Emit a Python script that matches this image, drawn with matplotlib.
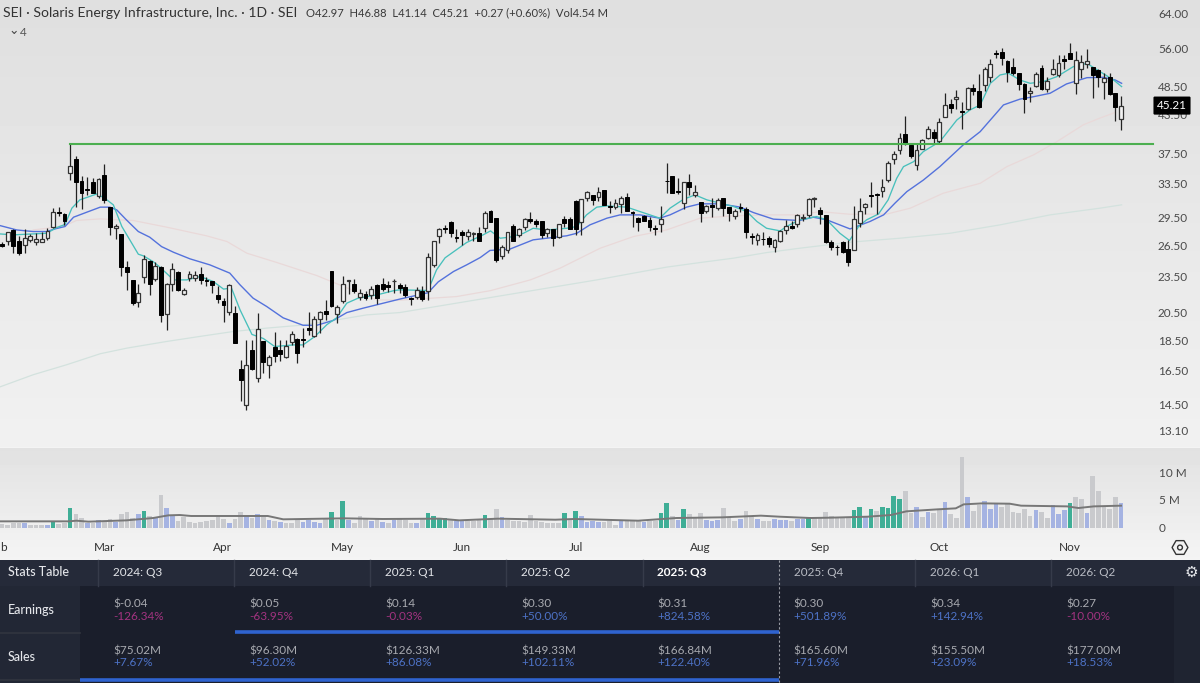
import numpy as np
import matplotlib
matplotlib.use("Agg")
import matplotlib.pyplot as plt
from matplotlib.patches import Rectangle

plt.rcParams['font.family'] = ['Lato', 'DejaVu Sans']

W = 1200
H = 683

opens = [26.71, 27.09, 28.20, 27.09, 26.64, 27.13, 26.89, 26.99, 27.33, 28.48,
         30.24, 29.96, 34.97, 36.88, 33.96, 32.92, 33.83, 32.08, 34.75, 30.82,
         28.38, 27.78, 24.49, 23.33, 21.44, 23.57, 25.11, 23.42, 24.53, 20.51,
         22.96, 24.00, 22.13, 23.48, 23.51, 23.88, 23.36, 23.19, 22.04, 21.50,
         20.69, 20.56, 16.66, 14.53, 17.88, 16.07, 18.52, 16.92, 18.08, 17.90,
         17.39, 18.40, 18.64, 18.62, 19.45, 18.83, 20.08, 20.72, 24.15, 20.51,
         21.50, 23.24, 22.99, 21.90, 22.13, 22.07, 22.90, 22.99, 22.87, 23.19,
         22.87, 22.67, 21.82, 21.85, 22.39, 22.33, 24.70, 27.61, 28.45, 29.01,
         27.47, 27.99, 27.51, 27.78, 27.85, 28.38, 30.31, 29.49, 25.50, 26.15,
         28.68, 27.65, 28.53, 29.38, 29.19, 29.12, 27.85, 28.27, 27.44, 29.45,
         29.38, 31.49, 29.08, 31.80, 32.21, 32.00, 32.83, 30.94, 30.75, 31.14,
         31.92, 30.20, 29.49, 29.71, 29.30, 28.38, 28.79, 34.00, 34.57, 32.75,
         31.22, 33.87, 32.17, 31.33, 30.31, 31.02, 30.63, 31.80, 30.78, 29.75,
         30.75, 30.51, 27.51, 27.16, 27.30, 27.33, 26.41, 27.09, 28.20, 28.61,
         28.83, 29.52, 29.86, 31.69, 30.43, 29.82, 26.99, 26.47, 26.92, 26.21,
         26.15, 28.98, 30.71, 32.21, 32.33, 32.71, 34.08, 36.88, 38.20, 40.60,
         38.98, 36.08, 38.40, 40.04, 40.85, 39.53, 43.35, 45.55, 46.30, 44.23,
         44.58, 48.41, 47.80, 48.83, 50.33, 55.21, 55.49, 53.61, 52.28, 51.11,
         49.08, 47.37, 48.71, 52.09, 48.11, 50.98, 50.78, 53.90, 55.14, 49.20,
         51.95, 52.92, 52.35, 51.76, 49.51, 50.39, 47.37, 42.97]
highs = [26.89, 28.03, 28.31, 27.58, 28.27, 27.78, 27.85, 28.03, 28.38, 30.63,
         30.75, 30.04, 39.08, 37.40, 34.62, 34.53, 34.39, 34.39, 36.18, 30.82,
         28.83, 27.78, 25.11, 23.33, 22.99, 25.63, 25.17, 25.01, 24.59, 23.10,
         24.85, 24.09, 22.59, 24.09, 24.09, 24.53, 23.63, 23.27, 22.76, 21.82,
         22.99, 21.15, 17.19, 18.54, 18.54, 20.56, 18.52, 17.57, 19.16, 18.59,
         18.59, 19.23, 18.71, 19.43, 20.64, 20.36, 20.75, 21.58, 24.15, 21.20,
         23.69, 23.36, 23.45, 22.53, 22.41, 22.76, 22.99, 23.48, 23.19, 23.39,
         23.10, 22.99, 21.87, 22.67, 22.82, 25.85, 27.06, 28.38, 28.75, 29.23,
         28.31, 28.20, 28.34, 28.03, 28.57, 30.31, 30.43, 29.49, 26.64, 28.03,
         28.83, 28.45, 29.49, 30.24, 29.38, 29.12, 28.45, 28.34, 28.86, 29.71,
         29.60, 31.61, 31.69, 32.75, 32.21, 33.16, 32.83, 31.53, 31.69, 32.08,
         32.42, 30.31, 29.60, 29.86, 29.67, 28.75, 30.90, 36.40, 34.57, 34.30,
         33.87, 34.88, 33.46, 31.33, 31.02, 31.80, 31.80, 31.88, 30.82, 30.51,
         31.29, 30.82, 27.85, 27.85, 27.96, 27.51, 27.23, 28.20, 29.30, 29.23,
         29.96, 29.93, 31.80, 32.00, 30.75, 29.86, 27.16, 26.64, 27.06, 27.16,
         30.94, 31.88, 31.29, 33.79, 32.42, 34.21, 36.69, 38.11, 40.70, 43.46,
         39.18, 39.28, 39.84, 41.85, 41.36, 43.19, 47.37, 46.30, 47.98, 45.90,
         48.47, 49.08, 50.91, 52.28, 53.90, 55.84, 56.18, 53.75, 54.10, 51.24,
         49.20, 48.59, 51.43, 52.74, 50.33, 53.90, 54.79, 54.79, 57.27, 55.70,
         54.79, 56.03, 52.41, 51.96, 51.11, 51.24, 47.37, 46.88]
lows = [26.41, 26.64, 25.82, 25.66, 25.82, 26.99, 26.64, 26.89, 27.16, 28.38,
        29.75, 28.75, 34.08, 30.71, 30.51, 32.21, 32.42, 31.80, 31.22, 27.68,
        27.23, 23.70, 22.47, 21.20, 21.09, 23.04, 21.99, 23.27, 19.88, 19.30,
        22.41, 22.41, 22.01, 23.19, 23.27, 22.99, 22.82, 22.19, 21.36, 19.85,
        20.43, 18.36, 14.71, 14.25, 16.55, 15.83, 16.39, 16.05, 17.08, 17.12,
        17.34, 18.24, 17.01, 18.12, 18.95, 18.78, 19.06, 20.06, 21.09, 19.80,
        21.36, 22.13, 22.19, 21.63, 21.58, 21.69, 21.31, 22.41, 22.30, 22.19,
        22.19, 21.87, 21.23, 21.72, 21.50, 21.63, 24.53, 26.82, 27.85, 27.44,
        26.92, 26.68, 27.16, 27.09, 27.09, 28.03, 29.01, 25.01, 25.27, 25.82,
        27.06, 27.44, 28.20, 28.94, 28.50, 27.33, 27.44, 26.54, 27.33, 28.50,
        28.27, 27.68, 27.68, 31.53, 31.02, 31.53, 30.98, 30.12, 30.59, 30.12,
        30.31, 28.57, 28.13, 29.12, 28.13, 27.68, 28.03, 32.42, 32.42, 32.33,
        30.59, 32.21, 32.00, 29.01, 30.04, 29.63, 30.43, 29.75, 29.23, 29.38,
        30.24, 27.33, 26.71, 26.64, 26.64, 26.47, 25.98, 26.89, 27.78, 28.27,
        28.57, 29.12, 29.67, 30.82, 28.83, 26.82, 26.15, 25.66, 25.82, 24.62,
        26.15, 28.57, 30.00, 30.82, 29.93, 32.00, 33.87, 36.22, 37.64, 38.93,
        37.02, 35.42, 38.30, 39.79, 39.18, 39.18, 43.24, 44.00, 44.58, 41.36,
        44.46, 47.07, 44.75, 47.80, 49.51, 54.10, 52.74, 49.38, 50.78, 47.98,
        44.00, 45.90, 48.59, 47.98, 47.55, 50.72, 50.33, 51.89, 53.90, 47.25,
        50.13, 52.09, 46.48, 48.59, 46.30, 47.07, 42.65, 41.14]
closes = [26.54, 27.96, 26.54, 25.88, 27.40, 27.51, 27.23, 27.27, 28.13, 30.24,
          30.04, 29.23, 35.95, 33.87, 32.50, 32.79, 32.50, 34.21, 31.61, 28.57,
          28.68, 24.49, 24.00, 21.36, 22.19, 25.24, 22.99, 24.59, 20.43, 22.99,
          24.30, 22.47, 22.44, 23.88, 23.76, 23.33, 23.24, 22.90, 21.69, 21.18,
          22.87, 18.36, 15.93, 16.91, 16.64, 19.40, 17.10, 17.43, 17.45, 17.63,
          18.14, 19.02, 17.70, 18.54, 19.32, 20.11, 20.67, 20.51, 21.15, 21.09,
          22.93, 23.36, 22.39, 22.24, 21.77, 22.53, 21.82, 22.53, 22.70, 23.27,
          22.59, 22.04, 21.74, 22.47, 21.72, 25.46, 27.06, 28.27, 28.34, 27.85,
          27.37, 27.65, 28.03, 27.85, 27.09, 30.04, 29.08, 25.17, 26.47, 27.96,
          27.09, 28.31, 29.38, 29.16, 28.83, 27.68, 28.27, 27.33, 28.79, 28.94,
          28.31, 28.34, 31.69, 32.62, 31.65, 32.54, 31.06, 30.75, 31.18, 31.80,
          30.35, 30.04, 29.01, 29.23, 28.53, 28.34, 29.38, 33.91, 32.50, 32.58,
          33.79, 33.25, 32.62, 30.04, 30.86, 30.82, 31.65, 30.67, 30.04, 30.31,
          30.63, 27.96, 27.44, 27.68, 27.23, 26.75, 27.16, 28.10, 28.68, 28.41,
          29.86, 29.60, 31.69, 31.84, 29.93, 26.92, 26.47, 26.41, 25.92, 24.95,
          29.38, 30.27, 31.10, 32.04, 32.21, 33.25, 36.40, 37.64, 40.00, 39.13,
          37.40, 38.20, 39.74, 41.42, 39.94, 42.44, 45.38, 44.75, 46.76, 44.12,
          48.29, 47.80, 44.98, 52.02, 52.87, 55.07, 54.24, 51.43, 51.11, 49.08,
          46.33, 47.74, 50.98, 48.17, 49.63, 52.02, 53.20, 53.54, 53.97, 53.75,
          53.40, 53.61, 50.78, 50.46, 50.20, 47.25, 44.98, 45.21]

# volume in millions, kind g/b/t = grey, blue, teal
volume = [0.73, 0.61, 0.85, 0.85, 0.98, 0.49, 0.61, 0.61, 0.61, 1.16,
          0.73, 0.85, 3.60, 2.56, 1.89, 0.98, 0.98, 1.46, 1.16, 1.71,
          1.16, 2.50, 2.93, 1.77, 2.50, 3.05, 2.26, 1.77, 6.10, 3.66,
          2.20, 1.28, 1.95, 1.16, 0.98, 1.16, 1.28, 1.46, 1.95, 1.65,
          0.98, 1.65, 2.93, 2.20, 1.77, 2.50, 2.07, 1.46, 1.34, 1.10,
          0.98, 0.85, 1.46, 1.16, 1.52, 1.10, 0.85, 1.83, 2.99, 1.46,
          5.00, 1.52, 0.98, 2.26, 1.77, 1.22, 1.59, 1.10, 0.85, 1.46,
          1.59, 1.46, 0.98, 0.98, 1.59, 2.68, 2.20, 1.83, 1.77, 1.46,
          1.28, 1.34, 1.22, 1.22, 1.59, 2.38, 1.59, 3.48, 2.01, 1.40,
          1.34, 1.22, 1.10, 2.38, 1.22, 1.10, 0.98, 0.98, 0.85, 2.80,
          1.46, 3.11, 2.13, 1.04, 1.22, 1.10, 1.16, 1.22, 0.61, 1.46,
          1.46, 1.46, 1.46, 1.04, 1.28, 1.34, 2.68, 4.63, 2.13, 1.46,
          3.48, 2.50, 1.77, 2.74, 1.46, 1.34, 1.52, 3.60, 2.07, 1.34,
          1.59, 3.11, 2.07, 1.59, 1.34, 1.34, 1.65, 1.46, 1.46, 1.22,
          1.59, 1.59, 2.01, 1.77, 1.83, 2.99, 2.20, 1.77, 1.77, 1.89,
          3.29, 3.84, 2.07, 3.41, 3.11, 3.84, 3.66, 5.79, 5.37, 6.77,
          2.68, 3.90, 2.01, 2.99, 2.80, 3.41, 4.82, 2.62, 1.83, 13.05,
          5.73, 3.11, 4.21, 4.94, 3.48, 4.51, 3.78, 4.33, 2.93, 2.80,
          3.48, 2.26, 3.29, 2.93, 1.83, 4.21, 2.56, 3.29, 4.51, 5.73,
          5.24, 2.74, 9.51, 6.77, 3.78, 3.54, 5.73, 4.54]
vol_kind = ("ggggbgggbt" "ggtggbgbgg" "bgggbtgbgb" "bggggggggg" "bggbgbgbgb"
            "gggbbbbgtg" "tbgggbgbgb" "gggbgttttg" "bbgggtggbg" "gggggggggt"
            "gtbbbbgggb" "gggbggttgb" "tgggbbbggg" "bggbggbbbg" "bbtggggggg"
            "ttbtgttttg" "gbgbggbggg" "bggbbbgggg" "ggbggbbbtg" "gbgggggb")

vol_avg_idx = [-0.4, 11.8, 13.1, 15.2, 21.9, 26.6, 29.3, 31.3, 33.3, 46.8, 49.5, 60.3, 67, 77.1, 80.5,
               87.3, 97.4, 100.7, 112, 118.7, 126.8, 133.6, 136.9, 142.3, 145.7, 152.4, 156.5,
               159.2, 164.6, 167.9, 169.3, 172.6, 177.4, 179.4, 187.5, 189.5, 192.2, 197]
vol_avg = [1.22, 1.22, 1.34, 1.16, 1.40, 1.83, 2.32, 2.38, 2.20, 2.20, 1.59, 1.77, 1.65, 1.71, 1.40,
           1.71, 1.52, 1.65, 1.34, 1.83, 1.95, 2.26, 2.07, 1.83, 1.89, 2.07, 2.38,
           3.05, 3.41, 3.60, 4.33, 4.51, 4.45, 4.09, 3.96, 3.66, 3.96, 4.09]

ma_fast_idx = [-0.4, 2, 7.9, 9.6, 11.1, 12.3, 13.7, 16.7, 18.1, 19.6, 21.1, 24, 24.9, 26.6, 27.8, 30.2,
               32.5, 34.9, 37.2, 39, 40.4, 41.9, 44, 46, 48, 51.3, 53, 55.1, 57.2, 58.9, 60.7, 62.7,
               66, 68.9, 70, 75, 76.5, 78, 81.8, 84.7, 86, 87.7, 89.4, 91.8, 93.5, 95.9, 99.4, 101.2,
               102.9, 104.7, 106.5, 110, 112.3, 115.8, 117.6, 120, 122, 124.1, 128.8, 131.1, 132.9,
               134.6, 137, 138.1, 140.4, 142, 143.4, 145.2, 147.5, 149.2, 150.8, 152.2, 154.3, 156,
               157.5, 158.7, 160.5, 162.2, 165.1, 168.1, 170.4, 172.2, 174, 175.7, 177.2, 179.2, 181,
               183.3, 185.7, 188.6, 191, 193.3, 195.7, 197.1]
ma_fast = [27.78, 27.68, 27.85, 28.45, 28.79, 30.63, 31.61, 32.33, 31.80, 31.02, 28.57, 25.72, 25.56,
           25.01, 24.49, 23.33, 23.33, 23.63, 23.19, 22.53, 22.62, 20.83, 18.97, 18.68, 18.12, 18.23,
           18.23, 18.83, 19.69, 20.20, 21.36, 21.77, 22.04, 22.39, 22.47, 22.41, 24.24, 25.37, 26.89,
           27.68, 28.10, 27.33, 27.44, 27.85, 28.38, 28.20, 28.38, 28.57, 29.86, 30.75, 30.90, 30.75,
           30.24, 29.49, 30.63, 31.69, 32.21, 31.61, 30.82, 30.24, 29.12, 28.38, 28.10, 28.57, 29.30,
           29.49, 29.67, 29.30, 27.85, 27.09, 28.57, 29.30, 29.96, 31.61, 34.30, 35.86, 36.55, 37.97,
           39.43, 42.81, 44.46, 45.32, 49.20, 50.78, 51.11, 49.81, 49.20, 49.51, 50.46, 52.41, 53.06,
           51.43, 49.81, 48.59]

ma_mid_idx = [-0.4, 2.6, 5.5, 7.9, 9.3, 11.1, 12.6, 14.9, 17.3, 19, 20.2, 21.9, 24, 26, 28.1, 30.2, 33.1,
              36.6, 40.1, 41.9, 44.2, 46.6, 49.5, 53, 55.4, 58.3, 60.7, 63.6, 66, 70, 75, 76.8, 79.5,
              81.8, 84.2, 85.9, 89.4, 93.5, 99.4, 101.2, 103.5, 106.5, 108.8, 112.3, 115.8, 117.6,
              120.5, 122.9, 126.4, 130, 132.3, 135.8, 140.4, 142.8, 145.2, 149.3, 152.8, 155.2, 157.2,
              159.3, 162.2, 165.1, 169.2, 172.2, 176.3, 179.2, 181.6, 184.5, 187.4, 191, 193.9, 196, 197.1]
ma_mid = [28.68, 28.20, 28.03, 28.03, 28.31, 28.57, 29.60, 30.16, 30.75, 30.75, 30.43, 29.30, 28.03, 27.44,
          26.47, 25.91, 25.27, 24.70, 23.94, 22.90, 21.77, 21.09, 20.20, 19.64, 19.64, 20.00, 20.61, 20.96,
          21.23, 21.69, 22.22, 23.16, 24.09, 24.70, 25.40, 26.09, 26.22, 27.16, 27.58, 27.85, 28.75, 29.49,
          29.86, 29.86, 29.49, 29.86, 30.75, 31.14, 31.14, 30.75, 30.12, 29.38, 29.23, 29.60, 29.30, 28.31,
          29.12, 29.86, 31.22, 32.62, 34.08, 35.86, 38.93, 40.95, 45.32, 46.33, 46.76, 47.37, 49.08, 50.26,
          50.33, 49.81, 49.20]

ma_slow_idx = [5.5, 7.9, 11.4, 13.1, 17.3, 23.1, 29, 36, 39.6, 43.1, 48.4, 55.4, 60.1, 66, 70, 80, 86, 93,
               98.2, 105.3, 111.2, 117, 122.9, 128.8, 134.6, 140.4, 144, 149.3, 155.8, 159.9, 165.7, 172.2,
               176.9, 181.6, 185.7, 190.4, 193.3, 196]
ma_slow = [28.20, 28.38, 28.75, 29.23, 29.41, 29.23, 28.50, 27.58, 26.99, 25.82, 24.92, 23.72, 22.76, 21.63,
           21.60, 21.90, 22.40, 23.33, 24.38, 26.31, 27.51, 28.20, 29.49, 29.75, 29.86, 29.86, 30.23, 29.93,
           29.96, 30.63, 32.42, 33.66, 35.86, 37.50, 39.43, 42.05, 43.12, 44.06]

ma_long_idx = [-0.4, 5.5, 11.4, 17.3, 22, 29, 34.9, 40.7, 46.6, 52.5, 58.3, 64.2, 70, 104.7, 111.2, 117,
               122.9, 128.8, 134.6, 140.4, 149.3, 158.1, 166.9, 175.7, 184.5, 193.3, 197.1]
ma_long = [15.54, 16.28, 16.91, 17.63, 18.01, 18.47, 18.83, 19.18, 19.43, 19.64, 20.00, 20.43, 20.61, 23.33,
           23.94, 24.49, 24.92, 25.34, 25.88, 26.31, 26.92, 27.33, 27.85, 28.75, 29.86, 30.63, 31.02]

level_price = 39.08
level_start = 12
level_end = 202.6

price_ticks = [64.00, 56.00, 48.50, 43.50, 37.50, 33.50, 29.50, 26.50, 23.50, 20.50, 18.50, 16.50, 14.50, 13.10]
vol_ticks = [10, 5, 0]
vol_tick_labels = ["10 M", "5 M", "0"]
# the first month label is cut by the left edge in the reference, only its last letter shows
months = ["b", "Mar", "Apr", "May", "Jun", "Jul", "Aug", "Sep", "Oct", "Nov"]
month_idx = [0.2, 18, 38.9, 60, 81, 101, 123, 144, 165, 188]

quarters = ["2024: Q3", "2024: Q4", "2025: Q1", "2025: Q2", "2025: Q3", "2025: Q4", "2026: Q1", "2026: Q2"]
eps_vals = ["$-0.04", "$0.05", "$0.14", "$0.30", "$0.31", "$0.30", "$0.34", "$0.27"]
eps_pct = ["-126.34%", "-63.95%", "-0.03%", "+50.00%", "+824.58%", "+501.89%", "+142.94%", "-10.00%"]
sales_vals = ["$75.02M", "$96.30M", "$126.33M", "$149.33M", "$166.84M", "$165.60M", "$155.50M", "$177.00M"]
sales_pct = ["+7.67%", "+52.02%", "+86.08%", "+102.11%", "+122.40%", "+71.96%", "+23.09%", "+18.53%"]

opens, highs, lows, closes = map(np.array, (opens, highs, lows, closes))
idx = np.arange(len(closes))

fig = plt.figure(figsize=(W / 100, H / 100), dpi=100, facecolor="#f4f4f4")

# backgrounds and table live in one axes in pixel coords
bg = fig.add_axes([0, 0, 1, 1], zorder=0)
bg.set_xlim(0, W)
bg.set_ylim(H, 0)
bg.axis("off")
grad1 = np.linspace(0.875, 0.945, 64).reshape(-1, 1)
grad2 = np.linspace(0.885, 0.955, 32).reshape(-1, 1)
bg.imshow(grad1, cmap="gray", vmin=0, vmax=1, extent=(0, W, 447, 0), aspect="auto")
bg.imshow(grad2, cmap="gray", vmin=0, vmax=1, extent=(0, W, 557, 448), aspect="auto")
bg.set_xlim(0, W)
bg.set_ylim(H, 0)

# price panel, log scale. 263.5 px per unit of ln(price), 64.00 sits at y=14
ax = fig.add_axes([0, 1 - 447 / H, 1, 447 / H], zorder=1)
ax.patch.set_alpha(0)
ax.set_yscale("log")
ax.set_ylim(64 * np.exp(-433 / 263.5), 64 * np.exp(14 / 263.5))
ax.set_xlim(-0.352, 210.9)
ax.axis("off")

ax.plot(ma_long_idx, ma_long, color="#d3e2de", lw=0.9, zorder=1)
ax.plot(ma_slow_idx, ma_slow, color="#e9d9d9", lw=0.9, zorder=1)
ax.plot(ma_mid_idx, ma_mid, color="#5472dc", lw=1.0, zorder=2)
ax.plot(ma_fast_idx, ma_fast, color="#48c0bc", lw=0.95, zorder=2)

up = closes >= opens
ax.vlines(idx, lows, highs, color="#222222", lw=0.9, zorder=3)
body_bot = np.minimum(opens, closes)
body_h = np.abs(closes - opens)
ax.bar(idx[up], body_h[up], bottom=body_bot[up], width=0.68, facecolor="#f2f2f2",
       edgecolor="#333333", lw=0.9, zorder=4)
ax.bar(idx[~up], body_h[~up], bottom=body_bot[~up], width=0.68, facecolor="black",
       edgecolor="black", lw=0.7, zorder=4)

ax.plot([level_start, level_end], [level_price, level_price], color="#4caf50", lw=1.5, zorder=5)

trans = ax.get_yaxis_transform()
for p in price_ticks:
    ax.text(1173 / W, p, "%.2f" % p, transform=trans, ha="center", va="center",
            fontsize=8.5, color="#4a4a4a", zorder=6)
ax.text(1172 / W, closes[-1], "%.2f" % closes[-1], transform=trans, ha="center", va="center",
        fontsize=8.5, color="white", zorder=8,
        bbox=dict(boxstyle="round,pad=0.3,rounding_size=0.1", fc="black", ec="black", lw=0))

# volume panel, base at y=528
vol = fig.add_axes([0, 1 - 528 / H, 1, 80 / H], zorder=1)
vol.patch.set_alpha(0)
vol.set_xlim(-0.352, 210.9)
vol.set_ylim(0, 80 / 5.46)
vol.axis("off")
kind_colors = {"g": "#c9cacd", "b": "#a5b3e2", "t": "#3fae96"}
vol.bar(idx, volume, width=0.82, color=[kind_colors[k] for k in vol_kind])
vol.plot(vol_avg_idx, vol_avg, color="#777777", lw=1.4)
vol_trans = vol.get_yaxis_transform()
for v, lab in zip(vol_ticks, vol_tick_labels):
    vol.text(1159 / W, v, lab, transform=vol_trans, ha="left", va="center", fontsize=8.5,
             color="#4a4a4a", clip_on=False)

# overlay: header, month labels, stats table
top = fig.add_axes([0, 0, 1, 1], zorder=3)
top.patch.set_alpha(0)
top.set_xlim(0, W)
top.set_ylim(H, 0)
top.axis("off")

top.text(3, 13, "SEI · Solaris Energy Infrastructure, Inc. · 1D · SEI", fontsize=10.1, color="#333333", va="center")
top.text(306, 13, "O42.97  H46.88  L41.14  C45.21  +0.27 (+0.60%)  Vol4.54 M", fontsize=8.1,
         color="#3a3a3a", va="center")
top.text(8, 31, "⌄", fontsize=9, color="#444444", va="center", family=["DejaVu Sans"])
top.text(20, 32, "4", fontsize=8.5, color="#555555", va="center")

for m, i in zip(months, month_idx):
    top.text(2 + 5.68 * i, 547.5, m, fontsize=8.5, color="#333333", ha="center", va="center")

top.scatter([1180], [547.5], marker="H", s=130, facecolor="none", edgecolor="#333333", lw=1.0)
top.scatter([1180], [547.5], marker="o", s=12, facecolor="none", edgecolor="#333333", lw=1.0)

# table
top.add_patch(Rectangle((0, 559.5), W, H - 559.5, fc="#1a1e2b", ec="none"))
top.add_patch(Rectangle((0, 559.5), W, 26.5, fc="#252a39", ec="none"))
top.add_patch(Rectangle((0, 586), 80, H - 586, fc="#222735", ec="none"))
top.add_patch(Rectangle((1174, 586), 26, H - 586, fc="#1f2431", ec="none"))
top.plot([0, 80], [633, 633], color="#31353f", lw=1.2)
top.plot([0, 80], [680, 680], color="#31353f", lw=1.2)

col_lines = [98, 234, 370, 506, 643, 915, 1051]
for c in col_lines:
    top.plot([c, c], [560, 586], color="#363b4a", lw=1)
top.plot([779, 779], [560, H], color="#9a9da5", lw=0.8, ls=(0, (2, 2)), zorder=5)

col_x = [113, 249, 385, 521, 657, 793.5, 930, 1066]
for label, y in (("Stats Table", 572), ("Earnings", 610), ("Sales", 657)):
    top.text(8, y, label, fontsize=9, color="#e4e6ea", va="center", weight="medium")
for k, x in enumerate(col_x):
    qc = "#ffffff" if k == 4 else ("#e4e6ea" if k < 4 else "#b9bcc4")
    top.text(x, 572, quarters[k], fontsize=8.5, color=qc, va="center", weight="bold" if k == 4 else "normal")
    top.text(x, 604, eps_vals[k], fontsize=8.5, color="#a8aab0", va="center")
    pc = "#a23380" if eps_pct[k].startswith("-") else "#4d72c6"
    top.text(x, 616.5, eps_pct[k], fontsize=8.5, color=pc, va="center")
    top.text(x, 650.5, sales_vals[k], fontsize=8.5, color="#a8aab0", va="center")
    top.text(x, 663, sales_pct[k], fontsize=8.5, color="#4d72c6", va="center")

top.plot([235, 779], [632, 632], color="#2f63cf", lw=2.6, solid_capstyle="butt")
top.plot([80, 779], [679.5, 679.5], color="#2f63cf", lw=2.6, solid_capstyle="butt")

top.text(1191, 572, "⚙", fontsize=11, color="#e4e6ea", ha="center", va="center", family=["DejaVu Sans"])

fig.savefig("out.png", dpi=100)
